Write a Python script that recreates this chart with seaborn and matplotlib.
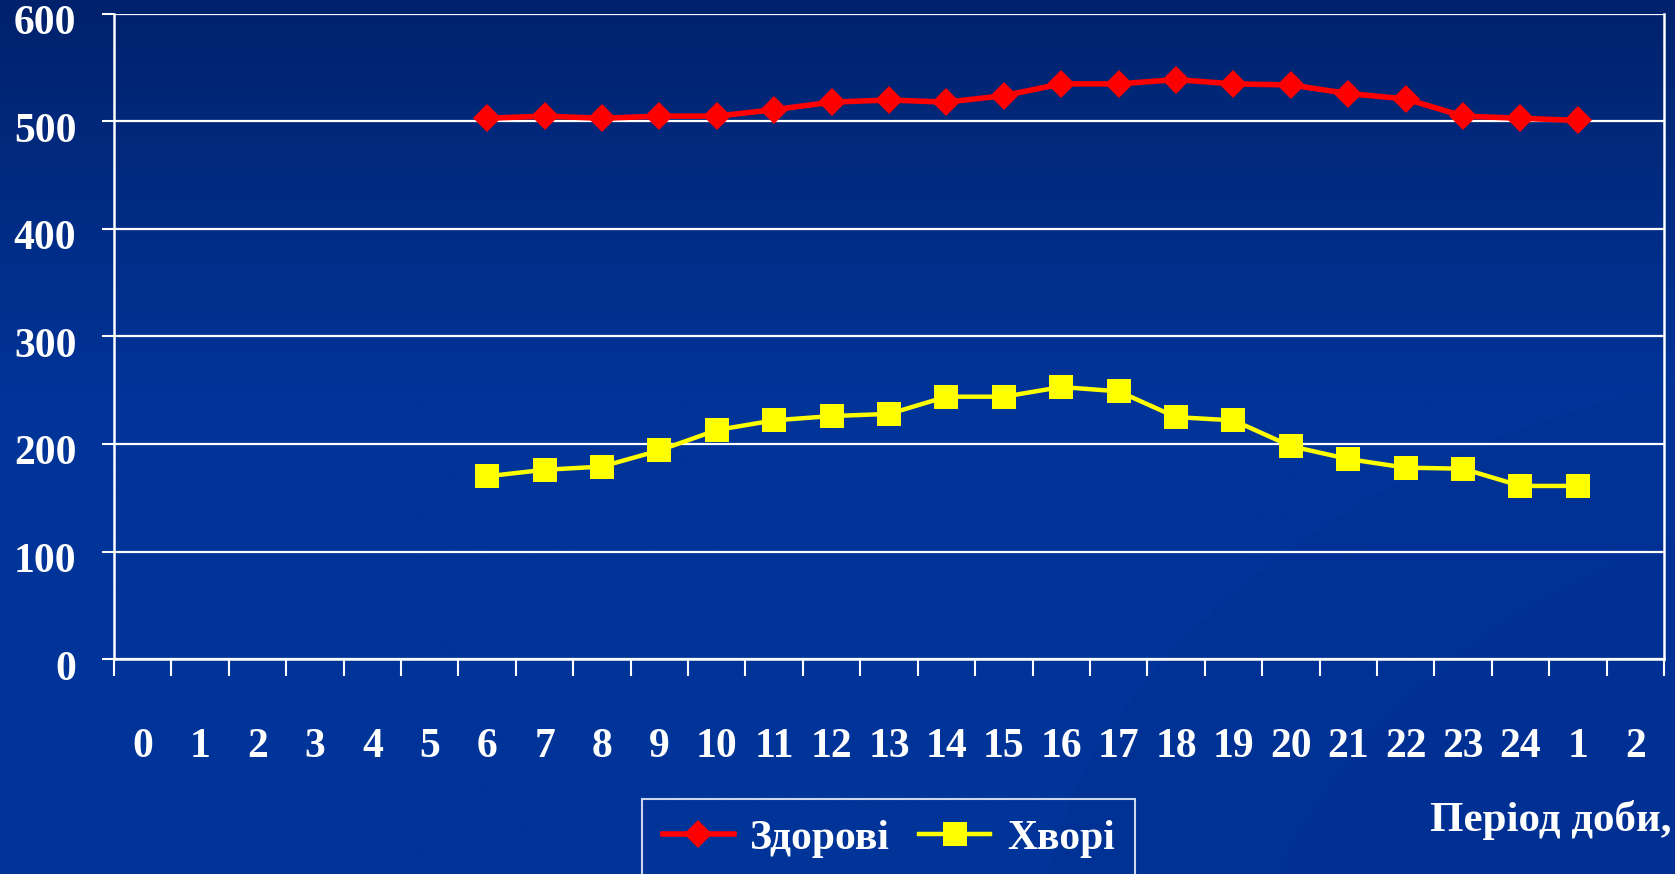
import numpy as np
import pandas as pd
import matplotlib
matplotlib.use("Agg")
import matplotlib.pyplot as plt
import matplotlib.transforms as mtransforms
import seaborn as sns

# Hour-of-day categories along the x axis
period_labels = ["0", "1", "2", "3", "4", "5", "6", "7", "8", "9", "10", "11", "12",
                 "13", "14", "15", "16", "17", "18", "19", "20", "21", "22", "23",
                 "24", "1", "2"]
# Measurements start at hour 6 (category index 6) and run to 1 o'clock next day
start_index = 6
healthy = [503, 505, 503, 505, 505, 511, 518, 520, 518, 524, 535, 535, 539,
           535, 534, 526, 521, 505, 503, 501]
sick = [170, 176, 179, 194, 213, 222, 226, 228, 244, 244, 253, 249, 225,
        222, 198, 186, 178, 177, 161, 161]
series_names = ["Здорові", "Хворі"]
y_ticks = [0, 100, 200, 300, 400, 500, 600]

positions = list(range(start_index, start_index + len(healthy)))
df = pd.DataFrame({
    "pos": positions * 2,
    "value": healthy + sick,
    "group": [series_names[0]] * len(healthy) + [series_names[1]] * len(sick),
})

W, H, DPI = 1675, 874, 100
fig = plt.figure(figsize=(W / DPI, H / DPI), dpi=DPI)

# Navy gradient backdrop
bg = fig.add_axes([0, 0, 1, 1], zorder=-10)
t = np.linspace(0, 1, 400)[:, None]
top = np.array([0, 34, 108]) / 255
mid = np.array([0, 52, 152]) / 255
w = np.clip(t / 0.45, 0, 1)
grad = (top[None, None, :] * (1 - w[..., None]) + mid[None, None, :] * w[..., None])
grad = np.repeat(grad, 2, axis=1)
bg.imshow(grad, aspect="auto", extent=[0, 1, 0, 1], origin="upper")
# faint swooshes in the lower right
for cx, cy, ww, hh, a in [(1.02, 0.05, 0.75, 1.1, 0.08), (1.05, 0.0, 0.55, 0.9, 0.06)]:
    bg.add_patch(matplotlib.patches.Ellipse((cx, cy), ww, hh, angle=-20,
                                            facecolor=(0, 0.12, 0.45), alpha=a,
                                            edgecolor="none"))
bg.set_xlim(0, 1)
bg.set_ylim(0, 1)
bg.axis("off")

ax = fig.add_axes([114 / W, 1 - 659 / H, (1664 - 114) / W, (659 - 14) / H])
ax.set_facecolor("none")

red_lw, red_ms = 4.0, 14.5
yel_lw, yel_ms = 3.2, 17

sns.lineplot(data=df, x="pos", y="value", hue="group", style="group",
             palette={series_names[0]: "#FF0000", series_names[1]: "#FFFF00"},
             markers={series_names[0]: "D", series_names[1]: "s"},
             dashes=False, ax=ax, legend=False)
lines = ax.get_lines()
lines[0].set_linewidth(red_lw)
lines[0].set_markersize(red_ms)
lines[0].set_markeredgewidth(0)
lines[1].set_linewidth(yel_lw)
lines[1].set_markersize(yel_ms)
lines[1].set_markeredgewidth(0)

ax.set_xlim(-0.5, len(period_labels) - 0.5)
ax.set_ylim(0, 600)
ax.set_xlabel("")
ax.set_ylabel("")

serif = ["Liberation Serif", "DejaVu Serif"]

ax.set_yticks(y_ticks)
ax.set_yticklabels([str(v) for v in y_ticks], family=serif, fontweight="bold",
                   fontsize=30, color="white")
ax.yaxis.grid(True, color="white", linewidth=1.6)
ax.set_axisbelow(True)

ax.set_xticks(np.arange(-0.5, len(period_labels), 1.0))
ax.set_xticklabels([])
ax.set_xticks(np.arange(len(period_labels)), minor=True)
ax.set_xticklabels(period_labels, minor=True, family=serif, fontweight="bold",
                   fontsize=30, color="white")
ax.tick_params(axis="x", which="major", length=12, width=1.5, color="white",
               direction="out")
ax.tick_params(axis="x", which="minor", length=0, pad=50)
ax.tick_params(axis="y", which="major", length=9, width=1.5, color="white",
               direction="out", pad=18)

offset = mtransforms.ScaledTranslation(0, -6 / DPI, fig.dpi_scale_trans)
for lab in ax.get_yticklabels():
    lab.set_transform(lab.get_transform() + offset)

for side in ["left", "bottom", "right"]:
    ax.spines[side].set_color("white")
    ax.spines[side].set_linewidth(1.8)
ax.spines["top"].set_visible(False)

handles = [
    matplotlib.lines.Line2D([], [], color="#FF0000", lw=red_lw, marker="D",
                            markersize=red_ms, markeredgewidth=0),
    matplotlib.lines.Line2D([], [], color="#FFFF00", lw=yel_lw, marker="s",
                            markersize=yel_ms, markeredgewidth=0),
]
leg = fig.legend(handles, series_names, loc="upper left",
                 bbox_to_anchor=(642 / W, 1 - 799 / H), ncol=2, frameon=True,
                 fancybox=False, facecolor="none", edgecolor="white",
                 borderaxespad=0, handlelength=1.7, handletextpad=0.4,
                 columnspacing=0.7, borderpad=0.5,
                 prop={"family": serif, "weight": "bold", "size": 30})
leg.get_frame().set_linewidth(1.5)
for txt in leg.get_texts():
    txt.set_color("white")

fig.text(1 - 4 / W, 1 - 820 / H, "Період доби,", family=serif,
         fontweight="bold", fontsize=31, color="white", va="center", ha="right")

fig.savefig("out.png", dpi=DPI)
